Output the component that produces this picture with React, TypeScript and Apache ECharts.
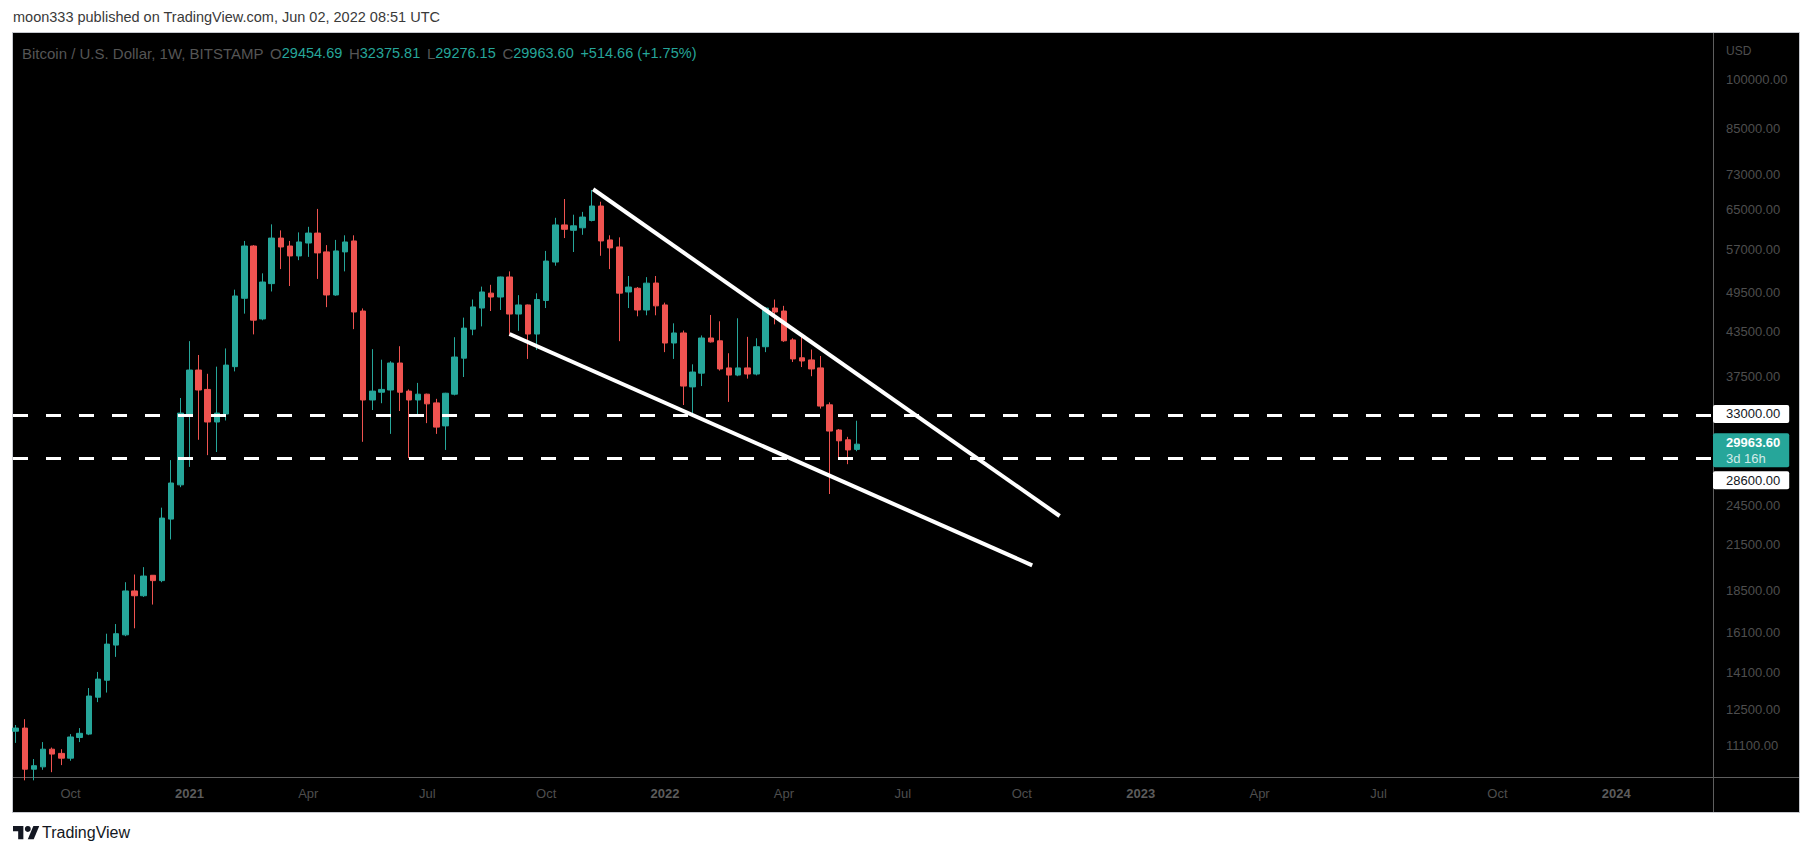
import React, { useEffect, useRef } from "react";
import * as echarts from "echarts";

// ---------- DATA ----------
const weeks = [
  "2020-08-24", "2020-08-31", "2020-09-07", "2020-09-14", "2020-09-21", "2020-09-28",
  "2020-10-05", "2020-10-12", "2020-10-19", "2020-10-26", "2020-11-02", "2020-11-09",
  "2020-11-16", "2020-11-23", "2020-11-30", "2020-12-07", "2020-12-14", "2020-12-21",
  "2020-12-28", "2021-01-04", "2021-01-11", "2021-01-18", "2021-01-25", "2021-02-01",
  "2021-02-08", "2021-02-15", "2021-02-22", "2021-03-01", "2021-03-08", "2021-03-15",
  "2021-03-22", "2021-03-29", "2021-04-05", "2021-04-12", "2021-04-19", "2021-04-26",
  "2021-05-03", "2021-05-10", "2021-05-17", "2021-05-24", "2021-05-31", "2021-06-07",
  "2021-06-14", "2021-06-21", "2021-06-28", "2021-07-05", "2021-07-12", "2021-07-19",
  "2021-07-26", "2021-08-02", "2021-08-09", "2021-08-16", "2021-08-23", "2021-08-30",
  "2021-09-06", "2021-09-13", "2021-09-20", "2021-09-27", "2021-10-04", "2021-10-11",
  "2021-10-18", "2021-10-25", "2021-11-01", "2021-11-08", "2021-11-15", "2021-11-22",
  "2021-11-29", "2021-12-06", "2021-12-13", "2021-12-20", "2021-12-27", "2022-01-03",
  "2022-01-10", "2022-01-17", "2022-01-24", "2022-01-31", "2022-02-07", "2022-02-14",
  "2022-02-21", "2022-02-28", "2022-03-07", "2022-03-14", "2022-03-21", "2022-03-28",
  "2022-04-04", "2022-04-11", "2022-04-18", "2022-04-25", "2022-05-02", "2022-05-09",
  "2022-05-16", "2022-05-23", "2022-05-30",
];

const opens = [
  11620, 11740, 10250, 10330, 10950, 10800,
  10630, 11380, 11510, 13000, 13750, 15440,
  15970, 18460, 18170, 19440, 19100, 23400,
  26200, 33000, 38270, 35900, 32240, 33100,
  38700, 48500, 57630, 45300, 50900, 59160,
  57630, 55770, 58200, 60140, 56520, 49030,
  56520, 58600, 46500, 34670, 35570, 35830,
  39170, 35700, 34670, 35340, 34340, 31830,
  35340, 39800, 43800, 46960, 49330, 48700,
  52030, 46040, 47440, 43100, 48150, 54660,
  61780, 60700, 61200, 62700, 65760, 58800,
  57450, 49520, 50130, 46660, 51000, 47440,
  41840, 43250, 36200, 37880, 42540, 42150,
  38540, 37640, 38540, 37770, 41330, 46960,
  46500, 42270, 39850, 39570, 38540, 34120,
  31400, 30400, 29454.69,
];

const highs = [
  11860, 12090, 10600, 11210, 11010, 10950,
  11510, 11740, 13400, 14130, 16030, 16550,
  19000, 19490, 19970, 19440, 24300, 28430,
  34900, 42100, 40220, 37800, 38700, 41100,
  49900, 58600, 57800, 52660, 61900, 60680,
  58600, 60280, 61400, 65130, 57800, 58800,
  59700, 59700, 46900, 41000, 39600, 39400,
  41400, 35900, 36680, 35400, 34800, 35500,
  42650, 45500, 48300, 50400, 50700, 52100,
  53000, 49000, 47500, 49300, 56700, 63250,
  67300, 63900, 64500, 69340, 66700, 59700,
  59300, 52200, 50330, 52000, 52200, 47800,
  44650, 43600, 39000, 42900, 45900, 44950,
  40450, 45400, 42700, 42500, 47130, 48300,
  47300, 42500, 43100, 40950, 40090, 34400,
  31500, 30700, 32375.81,
];

const lows = [
  11180, 9880, 9880, 10230, 10150, 10390,
  10540, 11210, 11470, 12790, 13200, 14850,
  15900, 16320, 18100, 17650, 19000, 21880,
  26000, 27800, 30400, 28900, 29200, 32400,
  38100, 46100, 43050, 45100, 49600, 53400,
  50500, 55000, 55600, 51700, 47100, 48900,
  53000, 43800, 30200, 33540, 34300, 31000,
  33430, 28620, 32800, 32120, 31000, 29400,
  35200, 37400, 42930, 44200, 46500, 46660,
  42800, 43550, 39700, 40900, 46960, 54000,
  59160, 56500, 59800, 62500, 55800, 53400,
  42100, 46960, 45700, 45850, 45850, 40600,
  39700, 34100, 33000, 36300, 41900, 38200,
  34450, 37500, 37200, 37600, 40600, 44500,
  42000, 39300, 38650, 37500, 33700, 25420,
  28700, 28050, 29276.15,
];

const closes = [
  11740, 10250, 10370, 10950, 10775, 10630,
  11400, 11540, 13050, 13800, 15490, 16030,
  18460, 18170, 19390, 19100, 23480, 26360,
  33200, 38270, 35830, 32240, 33200, 38900,
  48870, 57630, 45120, 51170, 59160, 57450,
  55770, 58400, 60140, 56330, 49030, 56700,
  58400, 46350, 34670, 35700, 35900, 39170,
  35570, 34670, 35340, 34230, 31700, 35450,
  39950, 43950, 47130, 49520, 48700, 52030,
  46040, 47440, 43100, 48300, 54840, 61780,
  60900, 61600, 63400, 65760, 58600, 57270,
  49330, 50330, 46660, 50980, 47300, 41840,
  43250, 36300, 38020, 42540, 42000, 38410,
  37640, 38540, 37770, 41330, 46960, 46350,
  42150, 39700, 39430, 38410, 33980, 31290,
  30300, 29400, 29963.60,
];

const levelLines = [33000, 28600];
const upperTrend: [string, number][] = [["2021-11-09", 69500], ["2022-11-01", 23640]];
const lowerTrend: [string, number][] = [["2021-09-06", 43100], ["2022-10-11", 20090]];

const priceTicks = [11100, 12500, 14100, 16100, 18500, 21500, 24500, 37500, 43500, 49500, 57000, 65000, 73000, 85000, 100000];
const timeTickDates = [
  "2020-10-05", "2021-01-04", "2021-04-05", "2021-07-05", "2021-10-04", "2022-01-03",
  "2022-04-04", "2022-07-04", "2022-10-03", "2023-01-02", "2023-04-03", "2023-07-03",
  "2023-10-02", "2024-01-01",
];
const timeTickLabels = ["Oct", "2021", "Apr", "Jul", "Oct", "2022", "Apr", "Jul", "Oct", "2023", "Apr", "Jul", "Oct", "2024"];
const xRange = ["2020-08-22", "2024-03-15"];
const yRange = [9990, 116400];

const headerText = "moon333 published on TradingView.com, Jun 02, 2022 08:51 UTC";
const symbolText = "Bitcoin / U.S. Dollar, 1W, BITSTAMP";
const changeText = "+514.66 (+1.75%)";
const countdownText = "3d 16h";

// ---------- HELPERS ----------
const ts = (s: string) => {
  const [y, m, d] = s.split("-").map(Number);
  return Date.UTC(y, m - 1, d);
};

const UP = "#26a69a";
const DOWN = "#ef5350";
const AXIS_TEXT = "#4e4e4e";
const FONT = "'Liberation Sans', Arial, sans-serif";

export default function App() {
  const ref = useRef<HTMLDivElement>(null);

  useEffect(() => {
    if (!ref.current) return;
    const chart = echarts.init(ref.current, undefined, { renderer: "svg" });
    const last = weeks.length - 1;
    const tickTimes = timeTickDates.map(ts);

    const candleData = weeks.map((w, i) => [ts(w), opens[i], closes[i], lows[i], highs[i]]);

    const boxLabel = (text: string, dy: number) => ({
      show: true,
      position: "end",
      distance: 0,
      formatter: text,
      backgroundColor: "#ffffff",
      color: "#131722",
      fontSize: 13,
      fontFamily: FONT,
      lineHeight: 14,
      padding: [2, 9, 2, 13],
      borderRadius: 2,
      offset: [0, dy],
    });

    const option: any = {
      animation: false,
      grid: { left: 13, right: 100, top: 33, bottom: 79 },
      xAxis: {
        type: "value",
        min: ts(xRange[0]),
        max: ts(xRange[1]),
        scale: true,
        axisLine: { show: false },
        axisTick: { show: false },
        splitLine: { show: false },
        axisLabel: {
          customValues: tickTimes,
          color: AXIS_TEXT,
          fontSize: 13,
          fontFamily: FONT,
          margin: 10,
          formatter: (v: number) => {
            const i = tickTimes.indexOf(v);
            const lbl = i >= 0 ? timeTickLabels[i] : "";
            return /^\d{4}$/.test(lbl) ? `{y|${lbl}}` : lbl;
          },
          rich: {
            y: { fontWeight: "bold", color: "#5c5c5c", fontSize: 13, fontFamily: FONT },
          },
        },
      },
      yAxis: {
        type: "log",
        logBase: 10,
        position: "right",
        min: yRange[0],
        max: yRange[1],
        axisLine: { show: false },
        axisTick: { show: false },
        splitLine: { show: false },
        axisLabel: {
          customValues: priceTicks,
          color: AXIS_TEXT,
          fontSize: 13,
          fontFamily: FONT,
          margin: 13,
          formatter: (v: number) => Number(v).toFixed(2),
        },
      },
      series: [
        {
          type: "candlestick",
          data: candleData,
          encode: { x: 0, y: [1, 2, 3, 4] },
          barWidth: 6,
          itemStyle: {
            color: UP,
            color0: DOWN,
            borderColor: UP,
            borderColor0: DOWN,
            borderWidth: 1,
          },
          markLine: {
            symbol: ["none", "none"],
            silent: true,
            z: 6,
            data: [
              {
                yAxis: levelLines[0],
                lineStyle: { color: "#ffffff", width: 3, type: [15, 18] },
                label: boxLabel(levelLines[0].toFixed(2), -1),
              },
              {
                yAxis: levelLines[1],
                lineStyle: { color: "#ffffff", width: 3, type: [15, 18] },
                label: boxLabel(levelLines[1].toFixed(2), 22),
              },
              {
                yAxis: closes[last],
                lineStyle: { color: "rgba(0,0,0,0)", width: 1, type: "solid" },
                label: {
                  show: true,
                  position: "end",
                  distance: 0,
                  formatter: `{p|${closes[last].toFixed(2)}}\n{t|${countdownText}}`,
                  backgroundColor: UP,
                  padding: [1, 9, 1, 13],
                  borderRadius: 2,
                  offset: [0, 6],
                  opacity: 1,
                  rich: {
                    p: { color: "#ffffff", fontWeight: "bold", fontSize: 13, lineHeight: 16, fontFamily: FONT },
                    t: { color: "rgba(255,255,255,0.8)", fontSize: 13, lineHeight: 16, fontFamily: FONT },
                  },
                },
              },
            ],
          },
        },
        {
          type: "line",
          data: upperTrend.map(([d, p]) => [ts(d), p]),
          symbol: "none",
          z: 7,
          lineStyle: { color: "#ffffff", width: 4 },
        },
        {
          type: "line",
          data: lowerTrend.map(([d, p]) => [ts(d), p]),
          symbol: "none",
          z: 7,
          lineStyle: { color: "#ffffff", width: 4 },
        },
      ],
      graphic: [
        {
          type: "line",
          shape: { x1: 1713.5, y1: 33, x2: 1713.5, y2: 812 },
          style: { stroke: "#5e5e5e", lineWidth: 1 },
          silent: true,
        },
        {
          type: "line",
          shape: { x1: 13, y1: 777.5, x2: 1799, y2: 777.5 },
          style: { stroke: "#5e5e5e", lineWidth: 1 },
          silent: true,
        },
        {
          type: "text",
          x: 13,
          y: 17,
          style: {
            text: headerText,
            fill: "#3a3a3a",
            fontSize: 14.5,
            fontFamily: FONT,
            verticalAlign: "middle",
          },
        },
        {
          type: "text",
          x: 22,
          y: 53,
          style: {
            text:
              `{n|${symbolText}}  {l|O}{v|${opens[last].toFixed(2)}}  {l|H}{v|${highs[last].toFixed(2)}}  ` +
              `{l|L}{v|${lows[last].toFixed(2)}}  {l|C}{v|${closes[last].toFixed(2)}}  {v|${changeText}}`,
            verticalAlign: "middle",
            rich: {
              n: { fill: "#555555", fontSize: 15, fontFamily: FONT },
              l: { fill: "#555555", fontSize: 15, fontFamily: FONT },
              v: { fill: UP, fontSize: 14.5, fontFamily: FONT },
            },
          },
        },
        {
          type: "text",
          x: 1726,
          y: 51,
          style: { text: "USD", fill: AXIS_TEXT, fontSize: 12, fontFamily: FONT, verticalAlign: "middle" },
        },
        {
          type: "group",
          x: 13,
          y: 823,
          scaleX: 0.74,
          scaleY: 0.74,
          children: [
            {
              type: "polygon",
              shape: { points: [[0, 4], [14, 4], [14, 22], [7, 22], [7, 11], [0, 11]] },
              style: { fill: "#131722" },
            },
            { type: "circle", shape: { cx: 20, cy: 8, r: 4 }, style: { fill: "#131722" } },
            {
              type: "polygon",
              shape: { points: [[27.5, 4], [35.5, 4], [28, 22], [20, 22]] },
              style: { fill: "#131722" },
            },
          ],
        },
        {
          type: "text",
          x: 42,
          y: 832,
          style: { text: "TradingView", fill: "#131722", fontSize: 16, fontFamily: FONT, verticalAlign: "middle" },
        },
      ],
    };

    chart.setOption(option);
    return () => chart.dispose();
  }, []);

  return (
    <div style={{ position: "fixed", left: 0, top: 0, width: 1813, height: 856, background: "#ffffff" }}>
      <div
        style={{
          position: "absolute",
          left: 12,
          top: 32,
          width: 1788,
          height: 781,
          boxSizing: "border-box",
          background: "#000000",
          border: "1px solid #c6c8ce",
        }}
      />
      <div ref={ref} style={{ position: "absolute", left: 0, top: 0, width: 1813, height: 856 }} />
    </div>
  );
}
